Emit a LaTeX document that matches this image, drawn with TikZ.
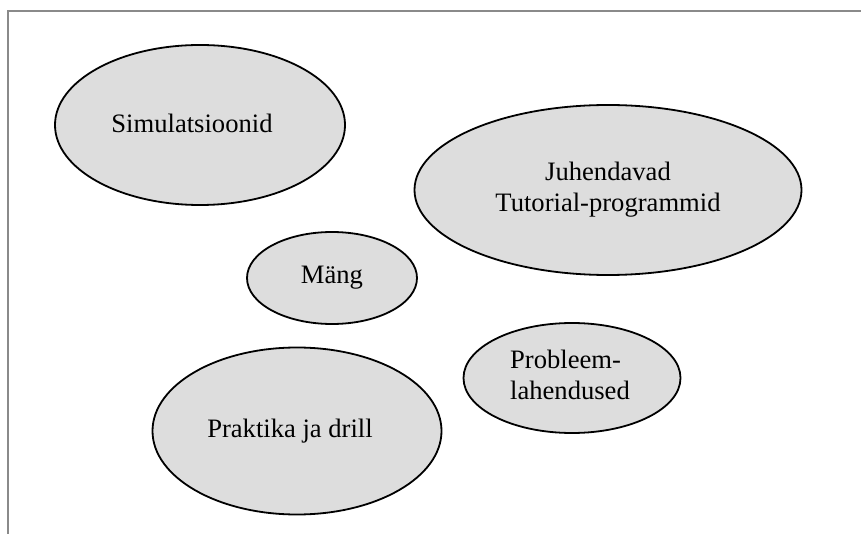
\documentclass[tikz,border=0pt]{standalone}
\usepackage{fontspec}
\setmainfont{Liberation Serif}
\usetikzlibrary{shapes.geometric}
\begin{document}
\begin{tikzpicture}[x=1pt,y=-1pt,
  blob/.style={ellipse,draw=black,line width=1.8pt,fill=blobfill,inner sep=0pt,
    font=\fontsize{26.6}{31}\selectfont},
  frame/.style={draw=framegray,line width=2pt}]
\definecolor{blobfill}{HTML}{DDDDDD}
\definecolor{framegray}{HTML}{8A8A8A}
\useasboundingbox (0,0) rectangle (861,534);
% outer frame: top and left edges only
\coordinate (ftr) at (861,11);
\coordinate (ftl) at (8,11);
\coordinate (fbl) at (8,534);
\draw[frame] (ftr) -- (ftl) -- (fbl);
% topic ellipses
\node[blob,minimum width=290,minimum height=160] (sim) at (200,125) {\raisebox{4pt}{Simulatsioonid}\hspace*{16pt}};
\node[blob,minimum width=387,minimum height=170,align=center] (juh) at (608,190) {Juhendavad\\Tutorial-programmid};
\node[blob,minimum width=170,minimum height=92] (mang) at (332,278) {\raisebox{6pt}{Mäng}};
\node[blob,minimum width=217,minimum height=110,align=left] (prob) at (572,378) {\raisebox{-4pt}{\begin{tabular}{@{}l@{}}Probleem-\\lahendused\end{tabular}}\hspace*{4pt}};
\node[blob,minimum width=289,minimum height=167] (prak) at (297,431) {\raisebox{2pt}{Praktika ja drill}\hspace*{14pt}};
\end{tikzpicture}
\end{document}
